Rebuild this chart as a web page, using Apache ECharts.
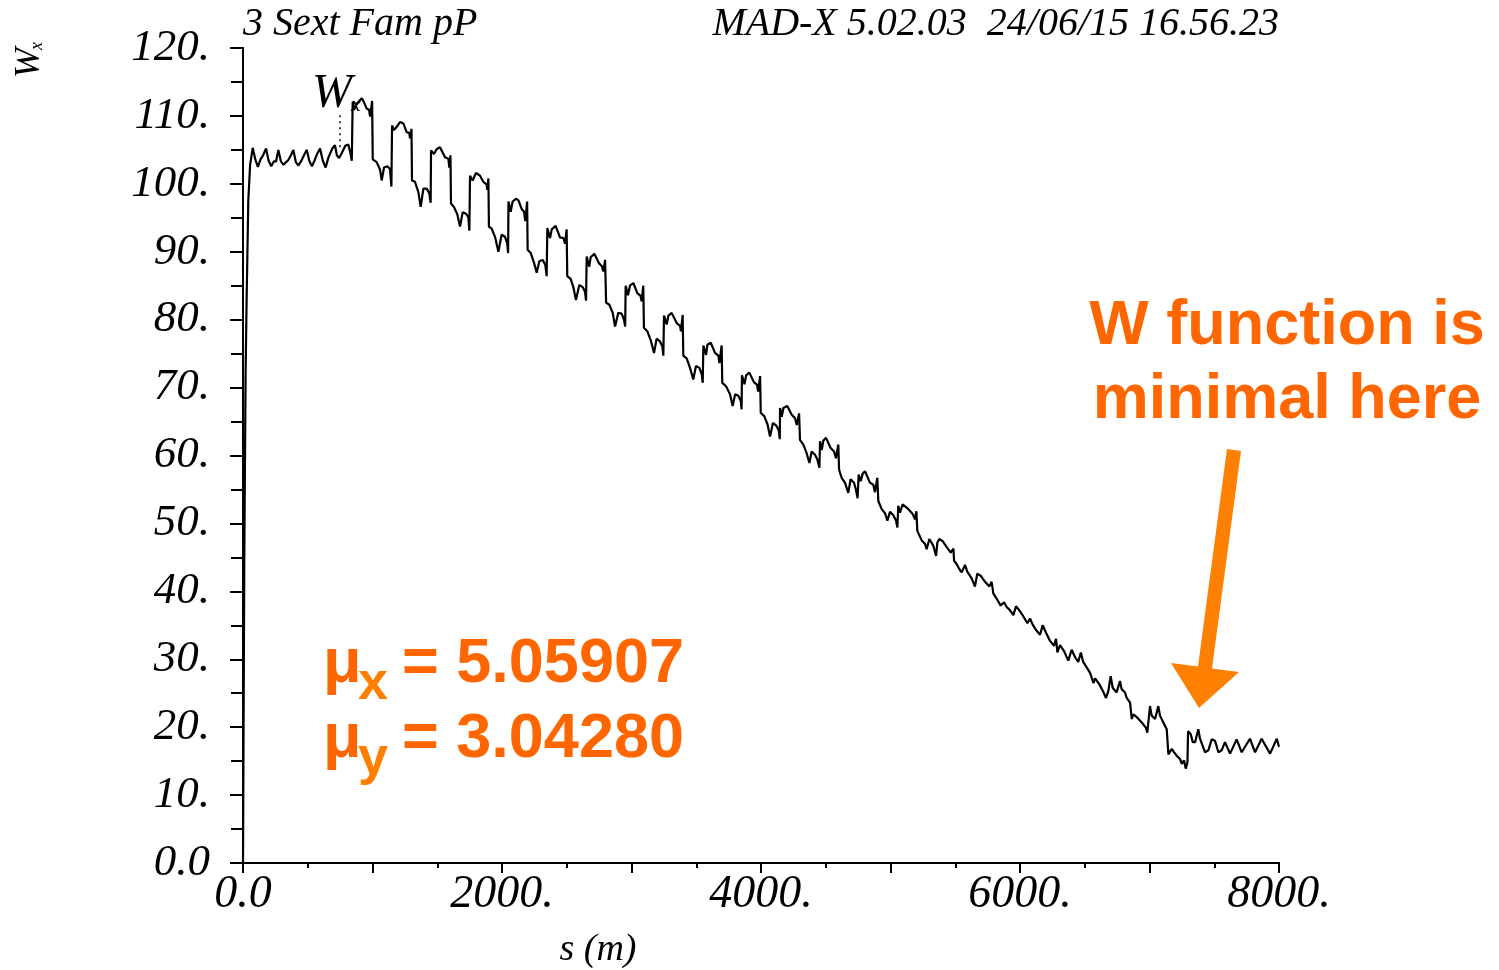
<!DOCTYPE html>
<html>
<head>
<meta charset="utf-8">
<script src="https://cdn.jsdelivr.net/npm/echarts@6.0.0/dist/echarts.min.js"></script>
<style>
html,body{margin:0;padding:0;background:#fff;}
#chart{width:1499px;height:970px;}
</style>
</head>
<body>
<div id="chart"></div>
<script>
// ---- data (s in m, W_x) ----
const sValues = [
0,10,20,28,41,55,75,95,115,135,155,178,198,218,238,255,273,293,313,333,350,370,389,408,428,448,468,492,512,532,552,572,595,615,638,660,690,710,725,742,765,790,813,830,840,845,
847,857,878,917,932,955,973,982,997,1002,1032,1058,1071,1089,1115,1135,1146,
1151,1166,1187,1212,1238,1264,1284,1290,1301,1305,1328,1354,1372,1393,1418,1439,1449,
1452,1475,1495,1521,1560,1586,1593,1602,1606,1629,1655,1676,1696,1722,1740,1748,
1753,1773,1799,1830,1856,1881,1887,1895,1899,1920,1946,1972,1997,2023,2041,2047,
2050,2067,2082,2108,2126,2152,2170,2180,2194,2198,2222,2247,2268,2288,2314,2334,2345,
2350,2371,2384,2414,2448,2474,2487,2499,2504,2530,2551,2571,2597,2623,2641,2649,
2654,2674,2685,2713,2749,2770,2783,2796,2804,2829,2855,2873,2898,2924,2942,2951,
2955,2973,2988,3014,3045,3070,3078,3091,3096,3122,3148,3174,3194,3220,3238,3246,
3251,3272,3285,3310,3349,3375,3382,3395,3400,3426,3452,3477,3498,3524,3542,3550,
3555,3576,3586,3612,3645,3671,3679,3696,3701,3730,3761,3781,3800,3825,3843,3850,
3853,3873,3885,3910,3945,3970,3978,3993,3998,4025,4050,4070,4092,4118,4137,4145,
4147,4160,4173,4203,4237,4263,4276,4294,4301,4327,4353,4374,4391,4417,4435,4451,
4456,4469,4482,4502,4538,4564,4579,4597,4603,4623,4648,4674,4692,4718,4733,4746,
4754,4769,4785,4803,4841,4867,4880,4898,4906,4932,4958,4976,4996,5022,5043,5053,
5060,5073,5094,5138,5171,5189,5200,5207,5241,5266,5279,5300,5331,5352,5362,5377,5403,5434,5465,5486,5491,5511,5537,5550,5575,5593,5627,5652,5670,5696,5730,5763,5781,5794,5820,5851,5877,5897,5923,5949,5969,5995,6026,6057,6077,6098,6124,6155,6175,6201,6232,6263,6278,6289,6309,6340,6373,6399,6425,6450,6470,6488,6515,6541,6567,6580,6613,6643,6664,6682,6700,6716,6746,6772,6785,6811,6824,6850,6863,6875,6906,6940,6973,6983,7004,7017,7043,7068,7081,7107,7133,7146,7172,7190,7210,7236,7249,7267,7280,7293,7298,7318,7334,7352,7377,7390,7429,7455,7480,7506,7532,7557,7583,7622,7673,7712,7776,7815,7866,7931,7983,8000
];
const wValues = [
0,45,72,83,97.6,102.8,105.3,103.6,102.5,103.6,104.2,105.2,103.4,102.6,103.3,103.3,105.0,103.3,102.8,103.2,103.5,104.2,105.0,103.2,102.7,103.3,104.1,105.0,103.4,102.6,103.4,104.4,105.2,103.5,102.4,103.9,105.2,105.7,104.2,103.8,104.6,105.6,105.8,104.5,103.4,103.2,
112.1,110.9,111.8,112.6,112.1,111.1,110.9,109.9,112.2,103.6,103.2,102.1,100.5,102.4,102.6,102.2,99.6,
108.6,107.9,108.4,109.1,108.9,107.6,107.5,106.7,108.1,100.5,100.3,98.8,96.6,99.3,99.3,98.6,97.2,
104.9,104.4,105.1,105.4,103.9,103.7,102.4,104.2,97.1,96.6,95.5,93.7,95.8,95.6,95.1,93.1,
101.2,100.5,101.6,101.2,100.3,99.9,99.1,100.8,93.7,93.4,92.2,90.0,92.5,92.2,91.2,89.8,
97.4,95.9,97.4,97.8,97.6,96.3,95.9,94.5,97.4,90.3,89.8,88.4,86.9,88.6,88.8,88.1,86.4,
93.5,92.0,93.3,93.8,92.1,92.0,91.2,93.3,86.4,86.0,84.8,82.9,85.1,84.8,84.1,82.8,
89.3,87.8,89.2,89.7,88.3,87.9,87.1,88.8,82.5,82.2,81.0,79.0,81.0,80.9,80.0,79.0,
85.0,83.6,85.0,85.4,83.9,83.5,82.7,85.0,78.8,78.3,77.0,75.1,77.2,76.8,76.1,74.7,
80.6,79.3,80.6,81.0,79.5,79.1,78.3,80.7,74.7,74.3,72.9,71.2,73.2,72.9,72.0,70.7,
76.2,74.8,76.3,76.6,75.1,74.7,73.6,76.2,70.7,70.2,69.0,67.3,69.0,68.8,68.1,66.8,
71.8,70.5,71.8,72.2,70.8,70.4,69.4,71.7,66.3,65.8,64.6,62.8,64.8,64.4,63.7,62.4,
67.0,65.7,67.0,67.3,66.0,65.5,64.5,66.2,62.3,61.6,60.3,58.9,60.6,60.1,59.4,58.2,
62.1,60.8,62.2,62.6,61.1,60.6,59.6,61.6,57.9,56.7,56.0,54.5,56.5,56.0,55.0,53.7,
57.2,56.2,57.3,57.7,56.0,55.7,54.6,56.7,53.3,52.1,51.5,50.4,51.7,51.2,50.4,49.4,
52.6,51.6,52.8,52.1,51.4,50.6,51.8,48.9,47.5,47.0,46.2,47.7,46.7,45.2,47.2,47.7,47.4,46.5,45.7,46.3,44.5,44.0,43.1,42.8,43.9,42.9,41.9,40.7,42.6,42.3,41.4,40.7,41.4,39.7,38.9,37.9,38.4,37.7,37.2,36.5,37.8,37.2,36.3,35.3,36.0,35.1,34.3,33.6,35.0,33.9,32.7,32.0,33.0,31.0,32.1,31.2,29.8,31.4,30.3,29.6,31.0,29.6,28.8,28.0,26.5,27.2,26.3,25.2,24.3,25.3,27.5,25.8,25.1,26.8,25.6,25.1,24.3,23.6,21.2,21.9,21.4,20.7,19.9,19.2,23.1,21.7,21.2,23.1,21.7,20.7,19.7,16.0,16.8,16.3,15.8,15.3,14.6,15.1,13.9,14.8,19.4,19.0,17.8,17.8,19.7,18.3,16.3,16.6,18.2,18.0,16.3,16.6,17.8,16.1,18.2,16.3,18.3,16.3,18.3,16.1,18.3,17.1
];
// label marker (dotted line under the in-plot "W_x" label)
const markerS = [749, 749];
const markerW = [105.4, 110.6];

// tick labels
const xTickValues = [0, 2000, 4000, 6000, 8000];
const xTickLabels = ['0.0', '2000.', '4000.', '6000.', '8000.'];
const yTickValues = [0,10,20,30,40,50,60,70,80,90,100,110,120];
const yTickLabels = ['0.0','10.','20.','30.','40.','50.','60.','70.','80.','90.','100.','110.','120.'];

// text
const titleLeft = '3 Sext Fam pP';
const titleRight = 'MAD-X 5.02.03  24/06/15 16.56.23';
const xName = 's (m)';
const noteLines = ['W function is', 'minimal here'];
const muX = '= 5.05907';
const muY = '= 3.04280';

const chart = echarts.init(document.getElementById('chart'), null, {renderer: 'canvas'});
const serif = '"Liberation Serif", "Times New Roman", serif';
const sans = '"Liberation Sans", Arial, sans-serif';
const ORANGE = '#FF6600';
const ORANGE2 = '#FF8000';

const lineData = sValues.map((s, i) => [s, wValues[i]]);
const markerData = markerS.map((s, i) => [s, markerW[i]]);

const axisLine = {show: true, lineStyle: {color: '#000', width: 2}};

const option = {
  animation: false,
  backgroundColor: '#fff',
  grid: {left: 243, right: 220, top: 48, bottom: 107, containLabel: false},
  xAxis: [
    {
      type: 'value', position: 'bottom', min: 0, max: 8000, interval: 1000,
      axisLine: axisLine,
      axisTick: {show: true, inside: false, length: 10, lineStyle: {color: '#000', width: 2}},
      minorTick: {show: true, splitNumber: 2, length: 5, lineStyle: {color: '#000', width: 2}},
      splitLine: {show: false}, minorSplitLine: {show: false},
      axisLabel: {
        show: true, margin: 9, color: '#000',
        fontFamily: serif, fontStyle: 'italic', fontSize: 46,
        formatter: v => { const i = xTickValues.indexOf(v); return i >= 0 ? xTickLabels[i] : ''; }
      }
    },
    {
      type: 'value', position: 'top', min: 0, max: 8000, interval: 1000,
      axisLine: axisLine,
      axisTick: {show: true, inside: true, length: 10, lineStyle: {color: '#000', width: 2}},
      minorTick: {show: true, splitNumber: 2, length: 5, lineStyle: {color: '#000', width: 2}},
      splitLine: {show: false}, axisLabel: {show: false}
    }
  ],
  yAxis: [
    {
      type: 'value', position: 'left', min: 0, max: 120, interval: 10,
      axisLine: axisLine,
      axisTick: {show: true, inside: false, length: 13, lineStyle: {color: '#000', width: 2}},
      minorTick: {show: true, splitNumber: 2, length: 7, lineStyle: {color: '#000', width: 2}},
      splitLine: {show: false}, minorSplitLine: {show: false},
      axisLabel: {
        show: true, margin: 33, color: '#000',
        fontFamily: serif, fontStyle: 'italic', fontSize: 45,
        padding: [0, 0, 8, 0],
        formatter: v => { const i = yTickValues.indexOf(v); return i >= 0 ? yTickLabels[i] : ''; }
      }
    },
    {
      type: 'value', position: 'right', min: 0, max: 120, interval: 5,
      axisLine: axisLine,
      axisTick: {show: true, inside: true, length: 12, lineStyle: {color: '#000', width: 2}},
      splitLine: {show: false}, axisLabel: {show: false}
    }
  ],
  series: [
    {
      type: 'line', xAxisIndex: 0, yAxisIndex: 0, data: lineData,
      showSymbol: false, symbol: 'none', smooth: false,
      lineStyle: {color: '#000', width: 2.2}, z: 3
    },
    {
      type: 'line', xAxisIndex: 0, yAxisIndex: 0, data: markerData,
      showSymbol: false, symbol: 'none',
      lineStyle: {color: '#000', width: 1.5, type: [2, 4]}, z: 2
    }
  ],
  graphic: [
    // titles
    {type: 'text', x: 243, y: 24, style: {text: titleLeft, font: 'italic 40px ' + serif, fill: '#000', align: 'left', verticalAlign: 'middle'}},
    {type: 'text', x: 1279, y: 24, style: {text: titleRight, font: 'italic 40px ' + serif, fill: '#000', align: 'right', verticalAlign: 'middle'}},
    // y axis name (rotated W_x)
    {type: 'group', x: 30, y: 63, rotation: Math.PI / 2, children: [
      {type: 'text', x: 0, y: 0, style: {text: 'W', font: 'italic 36px ' + serif, fill: '#000', align: 'center', verticalAlign: 'middle'}},
      {type: 'text', x: 17, y: 7, style: {text: 'x', font: 'italic 18px ' + serif, fill: '#000', align: 'center', verticalAlign: 'middle'}}
    ]},
    // x axis name
    {type: 'text', x: 598, y: 950, style: {text: xName, font: 'italic 38px ' + serif, fill: '#000', align: 'center', verticalAlign: 'middle'}},
    // in-plot label W_x
    {type: 'text', x: 332, y: 94, z: 10, style: {text: 'W', font: 'italic 48px ' + serif, fill: '#000', align: 'center', verticalAlign: 'middle'}},
    {type: 'text', x: 356, y: 105, z: 10, style: {text: 'x', font: 'italic 22px ' + serif, fill: '#000', align: 'center', verticalAlign: 'middle'}},
    // orange note
    {type: 'text', x: 1287, y: 327, style: {text: noteLines[0], font: 'bold 63px ' + sans, fill: ORANGE, align: 'center', verticalAlign: 'middle'}},
    {type: 'text', x: 1287, y: 401, style: {text: noteLines[1], font: 'bold 63px ' + sans, fill: ORANGE, align: 'center', verticalAlign: 'middle'}},
    // arrow
    {type: 'polygon', z: 10, shape: {points: [[1227, 449], [1241, 451], [1212, 668.5], [1239, 672], [1199, 708], [1171, 663], [1198, 666.5]]}, style: {fill: ORANGE2}},
    // mu texts
    {type: 'text', x: 323, y: 665, style: {text: 'μ', font: 'bold 63px ' + sans, fill: ORANGE, align: 'left', verticalAlign: 'middle'}},
    {type: 'text', x: 358, y: 684, style: {text: 'x', font: 'bold 54px ' + sans, fill: ORANGE2, align: 'left', verticalAlign: 'middle'}},
    {type: 'text', x: 402, y: 665, style: {text: muX, font: 'bold 63px ' + sans, fill: ORANGE, align: 'left', verticalAlign: 'middle'}},
    {type: 'text', x: 323, y: 740, style: {text: 'μ', font: 'bold 63px ' + sans, fill: ORANGE, align: 'left', verticalAlign: 'middle'}},
    {type: 'text', x: 358, y: 759, style: {text: 'y', font: 'bold 54px ' + sans, fill: ORANGE2, align: 'left', verticalAlign: 'middle'}},
    {type: 'text', x: 402, y: 740, style: {text: muY, font: 'bold 63px ' + sans, fill: ORANGE, align: 'left', verticalAlign: 'middle'}}
  ]
};
chart.setOption(option);
</script>
</body>
</html>
